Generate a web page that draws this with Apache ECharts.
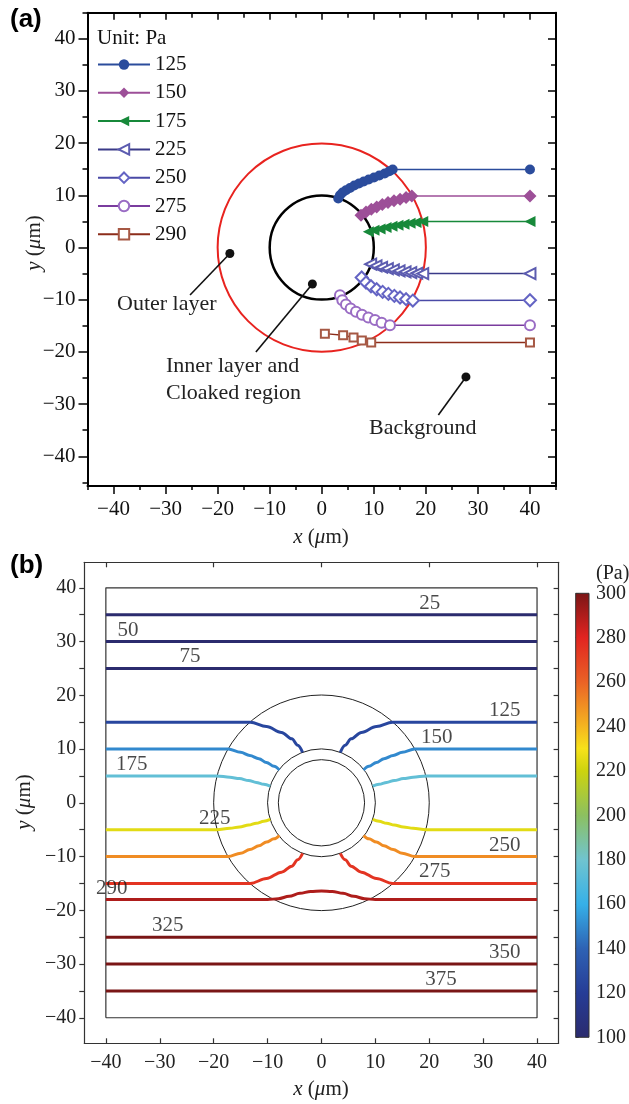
<!DOCTYPE html>
<html><head><meta charset="utf-8">
<script src="https://cdn.jsdelivr.net/npm/echarts@6/dist/echarts.min.js"></script>
<style>html,body{margin:0;padding:0;background:#fff}#c{width:629px;height:1104px}</style>
</head><body><div id="c"></div>
<script>
const SERIF = 'Liberation Serif';
// ---------- panel (a) ----------
const aTicks = [-40,-30,-20,-10,0,10,20,30,40];
const aMinorTicks = [-45,-35,-25,-15,-5,5,15,25,35,45];
const aNames = ['125','150','175','225','250','275','290'];
const a125 = [[3.17,9.39],[3.5,10.02],[4.0,10.54],[4.65,10.98],[5.42,11.42],[6.25,11.88],[7.15,12.26],[8.06,12.65],[9.02,13.03],[10.04,13.41],[11.06,13.8],[12.1,14.18],[12.98,14.62],[13.63,14.95],[40,14.95]];
const a150 = [[7.54,6.19],[8.5,6.82],[9.52,7.34],[10.55,7.78],[11.64,8.24],[12.73,8.62],[13.88,8.94],[15.04,9.26],[16.2,9.58],[17.3,9.89],[40,9.89]];
const a175 = [[8.94,3.0],[10.04,3.31],[11.2,3.57],[12.35,3.83],[13.5,4.08],[14.65,4.27],[15.8,4.47],[16.96,4.66],[18.1,4.78],[19.4,4.98],[40,4.98]];
const a225 = [[9.4,-3.2],[10.42,-3.52],[11.5,-3.78],[12.6,-4.03],[13.75,-4.28],[14.85,-4.48],[16.0,-4.67],[17.1,-4.8],[18.25,-4.93],[19.4,-5.0],[40,-5.0]];
const a250 = [[7.67,-5.75],[8.5,-6.71],[9.46,-7.42],[10.55,-7.99],[11.7,-8.5],[12.8,-8.89],[13.95,-9.27],[15.04,-9.58],[16.2,-9.9],[17.5,-10.16],[40,-10.1]];
const a275 = [[3.5,-9.14],[3.95,-10.1],[4.65,-10.9],[5.55,-11.7],[6.58,-12.3],[7.73,-12.9],[8.95,-13.4],[10.23,-13.9],[11.5,-14.4],[13.1,-14.9],[40,-14.9]];
const a290 = [[0.6,-16.5],[4.1,-16.8],[6.1,-17.25],[7.7,-17.8],[9.5,-18.2],[40,-18.2]];
const aData = [a125,a150,a175,a225,a250,a275,a290];
const aCircleRadii = [20, 10];
const annOuter = [[-17.65,-1.15],[-25.3,-9.1]];
const annInner = [[-1.8,-7.0],[-12.65,-20]];
const annBackground = [[27.7,-24.8],[22.4,-32.1]];

// ---------- panel (b) ----------
const bTicks = [-40,-30,-20,-10,0,10,20,30,40];
const bYTicks5 = [-40,-35,-30,-25,-20,-15,-10,-5,0,5,10,15,20,25,30,35,40];
const bTopTicks = [-40,-20,0,20,40];
const bCircleRadii = [20, 10, 8];
const bBox = [[-40,-40],[40,-40],[40,40],[-40,40],[-40,-40]];
const bLevels = [25,50,75,125,150,175,225,250,275,290,325,350,375];
const bLabelX = [20.1,-35.9,-24.4,34,21.4,-35.2,-19.8,34,21,-38.9,-28.5,34,22.2];
const bLabelY = [35,30,25,15,10,5,-5,-10,-15,-18,-25,-30,-35];
const b25 = [[-40,35],[40,35]];
const b50 = [[-40,30],[40,30]];
const b75 = [[-40,25],[40,25]];
const b125L = [[-40,15],[-13.2,15],[-10.2,14.2],[-7.4,13.1],[-5.5,11.9],[-4.4,10.7],[-3.5,9.4]];
const b125R = [[3.5,9.4],[4.4,10.7],[5.5,11.9],[7.4,13.1],[10.2,14.2],[13.2,15],[40,15]];
const b150L = [[-40,10],[-17.3,10],[-15,9.4],[-13.3,8.8],[-11.6,8.2],[-10.2,7.5],[-8.8,6.8],[-7.8,6.1]];
const b150R = [[7.8,6.1],[8.8,6.8],[10.2,7.5],[11.6,8.2],[13.3,8.8],[15,9.4],[17.3,10],[40,10]];
const b175L = [[-40,5],[-19.4,5],[-17,4.75],[-15.2,4.5],[-13.5,4.15],[-12.1,3.8],[-10.7,3.45],[-9.5,3.1]];
const b175R = [[9.5,3.1],[10.7,3.45],[12.1,3.8],[13.5,4.15],[15.2,4.5],[17,4.75],[19.4,5],[40,5]];
const b225L = [[-40,-5],[-19.4,-5],[-17,-4.75],[-15.2,-4.5],[-13.5,-4.15],[-12.1,-3.8],[-10.7,-3.45],[-9.5,-3.1]];
const b225R = [[9.5,-3.1],[10.7,-3.45],[12.1,-3.8],[13.5,-4.15],[15.2,-4.5],[17,-4.75],[19.4,-5],[40,-5]];
const b250L = [[-40,-10],[-17.3,-10],[-15,-9.4],[-13.3,-8.7],[-11.6,-8.0],[-10.2,-7.3],[-8.8,-6.7],[-7.8,-6.1]];
const b250R = [[7.8,-6.1],[8.8,-6.7],[10.2,-7.3],[11.6,-8.0],[13.3,-8.7],[15,-9.4],[17.3,-10],[40,-10]];
const b275L = [[-40,-15],[-13.2,-15],[-10.2,-14.1],[-7.4,-12.9],[-5.5,-11.8],[-4.4,-10.6],[-3.5,-9.4]];
const b275R = [[3.5,-9.4],[4.4,-10.6],[5.5,-11.8],[7.4,-12.9],[10.2,-14.1],[13.2,-15],[40,-15]];
const b290 = [[-40,-18],[-10,-18],[-8,-17.85],[-6,-17.4],[-4,-16.85],[-2,-16.5],[0,-16.4],[2,-16.5],[4,-16.85],[6,-17.4],[8,-17.85],[10,-18],[40,-18]];
const b325 = [[-40,-25],[40,-25]];
const b350 = [[-40,-30],[40,-30]];
const b375 = [[-40,-35],[40,-35]];
const bPaths = [[b25],[b50],[b75],[b125L,b125R],[b150L,b150R],[b175L,b175R],[b225L,b225R],[b250L,b250R],[b275L,b275R],[b290],[b325],[b350],[b375]];

// ---------- colour scale ----------
const cmapValues = [100,120,140,160,180,200,220,230,240,260,280,300];
const cmapColors = ['#2b2b6e','#263c96','#2e62b4','#36b0e8','#70c4d0','#8cc060','#cdd30e','#f7e21a','#f5b520','#ea6226','#e12420','#7a1616'];
const cbMin = 100, cbMax = 300, cbStep = 20;

function hex2rgb(h){return [parseInt(h.slice(1,3),16),parseInt(h.slice(3,5),16),parseInt(h.slice(5,7),16)];}
function cmap(v){
  if (v <= cmapValues[0]) return cmapColors[0];
  if (v >= cmapValues[cmapValues.length-1]) return cmapColors[cmapColors.length-1];
  for (let i=0;i<cmapValues.length-1;i++){
    if (v>=cmapValues[i] && v<=cmapValues[i+1]){
      const t=(v-cmapValues[i])/(cmapValues[i+1]-cmapValues[i]);
      const a=hex2rgb(cmapColors[i]), b=hex2rgb(cmapColors[i+1]);
      return 'rgb('+a.map((x,k)=>Math.round(x+(b[k]-x)*t)).join(',')+')';
    }
  }
}
const fmt = v => (v < 0 ? '\u2212' + Math.abs(v) : String(v));

// ---------- styles ----------
const aStyles = [
  {symbol:'circle', size:10, line:'#2b4c9c', item:'#2b4c9c', rot:0},
  {symbol:'diamond', size:13, line:'#9d4f98', item:'#9d4f98', rot:0},
  {symbol:'triangle', size:11, line:'#17893a', item:'#17893a', rot:90},
  {symbol:'emptyTriangle', size:11, line:'#3a3a88', item:'#5c5cb0', rot:90},
  {symbol:'emptyDiamond', size:12, line:'#4a4aa6', item:'#6464c4', rot:0},
  {symbol:'emptyCircle', size:10, line:'#7a3c9e', item:'#9a6cc4', rot:0},
  {symbol:'emptyRect', size:8, line:'#8c2c1a', item:'#a65844', rot:0}
];

function circleSeries(xi, yi, r, color, width){
  return {type:'custom', xAxisIndex:xi, yAxisIndex:yi, data:[[0,0,r]], z:1, silent:true,
    renderItem:(p, api)=>{
      const c = api.coord([api.value(0), api.value(1)]);
      const rp = api.size([api.value(2), 0])[0];
      return {type:'circle', shape:{cx:c[0], cy:c[1], r:rp}, style:{fill:'none', stroke:color, lineWidth:width}};
    }};
}

const series = [];
series.push(circleSeries(0,0,aCircleRadii[0],'#e8231f',2));
series.push(circleSeries(0,0,aCircleRadii[1],'#000',2.5));
aNames.forEach((n,i)=>{
  const s = aStyles[i];
  series.push({name:n, type:'line', xAxisIndex:0, yAxisIndex:0, data:aData[i], z:3,
    symbol:s.symbol, symbolSize:s.size, symbolRotate:s.rot, showAllSymbol:true,
    lineStyle:{color:s.line, width:1.5}, itemStyle:{color:s.item, borderWidth:1.2}});
});
[annOuter, annInner, annBackground].forEach(d=>{
  series.push({type:'line', xAxisIndex:0, yAxisIndex:0, z:4, silent:true,
    data:[{value:d[0], symbol:'circle', symbolSize:9}, {value:d[1], symbol:'none'}],
    lineStyle:{color:'#111', width:1.6}, itemStyle:{color:'#111'}});
});
series.push({type:'line', xAxisIndex:4, yAxisIndex:4, data:bBox, symbol:'none', lineStyle:{color:'#333', width:1.2}, z:1, silent:true});
bCircleRadii.forEach(r=>series.push(circleSeries(4,4,r,'#222',1)));
bLevels.forEach((lv,i)=>{
  bPaths[i].forEach(path=>{
    series.push({type:'line', xAxisIndex:4, yAxisIndex:4, data:path, symbol:'none', showSymbol:false,
      smooth:0.35, smoothMonotone:'x', z:2, silent:true, lineStyle:{color:cmap(lv), width:3}});
  });
});
series.push({type:'scatter', xAxisIndex:4, yAxisIndex:4, symbolSize:0, z:5, silent:true,
  data:bLevels.map((lv,i)=>[bLabelX[i], bLabelY[i], lv]),
  label:{show:true, position:'top', distance:1, formatter:p=>String(p.value[2]), fontFamily:SERIF, fontSize:21, color:'#1a1a1a'}});
series.push({type:'custom', xAxisIndex:6, yAxisIndex:6, data:[[0,cbMin,1,cbMax]], silent:true,
  renderItem:(p, api)=>{
    const p1 = api.coord([api.value(0), api.value(3)]);
    const p2 = api.coord([api.value(2), api.value(1)]);
    const stops = cmapValues.map((v,k)=>({offset:(cbMax-v)/(cbMax-cbMin), color:cmapColors[k]}));
    return {type:'rect', shape:{x:p1[0], y:p1[1], width:p2[0]-p1[0], height:p2[1]-p1[1]},
      style:{fill:new echarts.graphic.LinearGradient(0,0,0,1,stops), stroke:'#333', lineWidth:1}};
  }});

const lblA = {fontFamily:SERIF, fontSize:21, color:'#111', formatter:fmt};
const lblB = {fontFamily:SERIF, fontSize:20, color:'#222', formatter:fmt};
function axis(o){ return Object.assign({type:'value', splitLine:{show:false}}, o); }
const blackA = {color:'#000', width:2};
const tickA = {color:'#000', width:1.5};
const lineB = {color:'#333', width:1.2};

const xAxis = [
  axis({gridIndex:0, position:'bottom', min:-45, max:45, axisLine:{show:true,onZero:false,lineStyle:blackA},
    axisTick:{show:true,length:8,customValues:aTicks,lineStyle:tickA}, axisLabel:Object.assign({show:true,customValues:aTicks,margin:13},lblA)}),
  axis({gridIndex:0, position:'bottom', min:-45, max:45, axisLine:{show:false,onZero:false},
    axisTick:{show:true,length:4,customValues:aMinorTicks,lineStyle:tickA}, axisLabel:{show:false}}),
  axis({gridIndex:0, position:'top', min:-45, max:45, axisLine:{show:true,onZero:false,lineStyle:blackA},
    axisTick:{show:true,inside:true,length:7,customValues:aTicks,lineStyle:tickA}, axisLabel:{show:false}}),
  axis({gridIndex:0, position:'top', min:-45, max:45, axisLine:{show:false,onZero:false},
    axisTick:{show:true,inside:true,length:5,customValues:aMinorTicks,lineStyle:tickA}, axisLabel:{show:false}}),
  axis({gridIndex:1, position:'bottom', min:-44, max:44, axisLine:{show:true,onZero:false,lineStyle:lineB},
    axisTick:{show:true,inside:true,length:5,customValues:bTicks,lineStyle:lineB}, axisLabel:Object.assign({show:true,customValues:bTicks,margin:9},lblB)}),
  axis({gridIndex:1, position:'top', min:-44, max:44, axisLine:{show:true,onZero:false,lineStyle:lineB},
    axisTick:{show:true,inside:true,length:5,customValues:bTopTicks,lineStyle:lineB}, axisLabel:{show:false}}),
  axis({gridIndex:2, min:0, max:1, show:false})
];
const yAxis = [
  axis({gridIndex:0, position:'left', min:-45.7, max:45, axisLine:{show:true,onZero:false,lineStyle:blackA},
    axisTick:{show:true,length:9,customValues:aTicks,lineStyle:tickA}, axisLabel:Object.assign({show:true,customValues:aTicks,margin:12},lblA)}),
  axis({gridIndex:0, position:'left', min:-45.7, max:45, axisLine:{show:false,onZero:false},
    axisTick:{show:true,length:5,customValues:aMinorTicks,lineStyle:tickA}, axisLabel:{show:false}}),
  axis({gridIndex:0, position:'right', min:-45.7, max:45, axisLine:{show:true,onZero:false,lineStyle:blackA},
    axisTick:{show:true,inside:true,length:8,customValues:aTicks,lineStyle:tickA}, axisLabel:{show:false}}),
  axis({gridIndex:0, position:'right', min:-45.7, max:45, axisLine:{show:false,onZero:false},
    axisTick:{show:true,inside:true,length:5,customValues:aMinorTicks,lineStyle:tickA}, axisLabel:{show:false}}),
  axis({gridIndex:1, position:'left', min:-44.75, max:44.75, axisLine:{show:true,onZero:false,lineStyle:lineB},
    axisTick:{show:true,length:5,customValues:bYTicks5,lineStyle:lineB}, axisLabel:Object.assign({show:true,customValues:bTicks,margin:8},lblB)}),
  axis({gridIndex:1, position:'right', min:-44.75, max:44.75, axisLine:{show:true,onZero:false,lineStyle:lineB},
    axisTick:{show:true,inside:true,length:5,customValues:bYTicks5,lineStyle:lineB}, axisLabel:{show:false}}),
  axis({gridIndex:2, position:'right', min:cbMin, max:cbMax, interval:cbStep, axisLine:{show:false},
    axisTick:{show:true,length:3,lineStyle:{color:'#444',width:1}}, axisLabel:{show:true,margin:7,padding:[7,0,0,0],fontFamily:SERIF,fontSize:20,color:'#222'}})
];

const txt = (t,x,y,extra) => ({type:'text', x, y, z:10, silent:true,
  style:Object.assign({text:t, fontFamily:SERIF, fontSize:22, fill:'#222', align:'left', verticalAlign:'middle'}, extra||{})});
const axName = (x,y,letter,rot) => Object.assign(txt('{i|'+letter+'} ({i|\u03bc}m)', x, y,
  {align:'center', fontSize:21, fill:'#222', rich:{i:{fontStyle:'italic', fontFamily:SERIF, fontSize:21, fill:'#222'}}}), rot ? {rotation:Math.PI/2} : {});
const graphic = [
  txt('(a)', 10, 20, {fontFamily:'Liberation Sans', fontWeight:'bold', fontSize:26, fill:'#000'}),
  txt('(b)', 10, 566, {fontFamily:'Liberation Sans', fontWeight:'bold', fontSize:26, fill:'#000'}),
  txt('Unit: Pa', 97, 38, {fontSize:21, fill:'#111'}),
  txt('Outer layer', 117, 304),
  txt('Inner layer and', 166, 366),
  txt('Cloaked region', 166, 393),
  txt('Background', 369, 428),
  axName(321, 537, 'x', false),
  axName(321, 1089, 'x', false),
  axName(34, 243, 'y', true),
  axName(24, 802, 'y', true),
  txt('(Pa)', 596, 574, {fontSize:20})
];

const chart = echarts.init(document.getElementById('c'), null, {renderer:'canvas'});
chart.setOption({
  animation:false,
  backgroundColor:'#fff',
  grid:[
    {left:87.5, top:12.7, width:468.5, height:473.3},
    {left:84.3, top:562.3, width:474.3, height:481},
    {left:575.7, top:593.3, width:14.3, height:444}
  ],
  legend:{data:aNames, orient:'vertical', left:97, top:54, padding:0, itemWidth:52, itemHeight:13, itemGap:7.3,
    textStyle:{fontFamily:SERIF, fontSize:21, color:'#111'}},
  xAxis, yAxis, series, graphic
});
</script></body></html>
